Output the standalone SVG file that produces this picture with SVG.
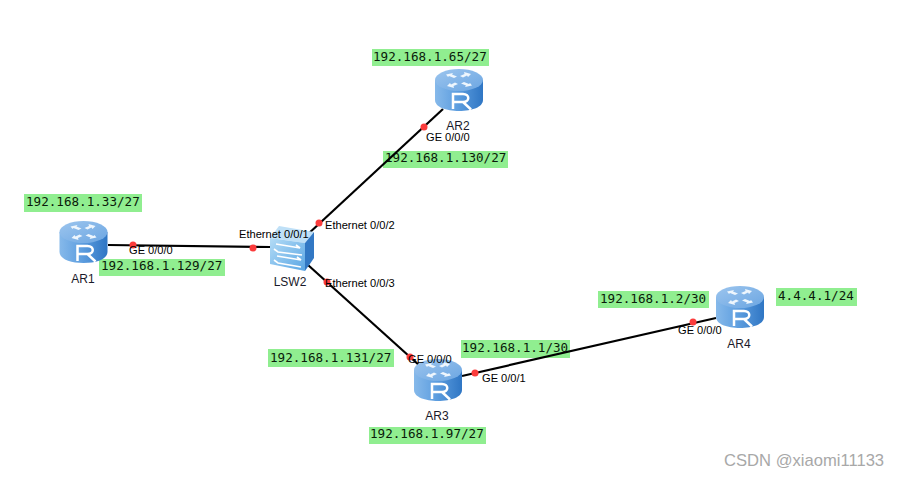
<svg xmlns="http://www.w3.org/2000/svg" width="900" height="477" viewBox="0 0 900 477">
<style>
.l{stroke:#000;stroke-width:2.200;fill:none}
.d{fill:#fb3c3c}
.g{fill:#90ee90}
.m{font:12.6px "DejaVu Sans Mono",monospace;fill:#0a1a0a}
.p{font:11.1px "Liberation Sans",Arial,sans-serif;fill:#000}
.n{font:12px "Liberation Sans",Arial,sans-serif;fill:#1a1a2a;text-anchor:middle}
</style>
<defs>
<linearGradient id="rb" x1="0" x2="1" y1="0" y2="0"><stop offset="0" stop-color="#86b9ea"/><stop offset=".45" stop-color="#5f9fe0"/><stop offset="1" stop-color="#2f76c4"/></linearGradient>
<linearGradient id="rt" x1="0" x2="1" y1="0" y2="1"><stop offset="0" stop-color="#9cc5ee"/><stop offset="1" stop-color="#6ca6e2"/></linearGradient>
<linearGradient id="sf" x1="0" x2="1" y1="0" y2="1"><stop offset="0" stop-color="#b4dcf6"/><stop offset="1" stop-color="#5aa6e4"/></linearGradient>
<g id="router">
<path d="M-24 0V20C-24 27 -13 31 0 31S24 27 24 20V0Z" fill="url(#rb)"/>
<ellipse cx="0" cy="0" rx="24" ry="11" fill="url(#rt)"/>
<g fill="#eef6fd">
<path d="M-13 -5.500L-6 -7L-7 -5.500L-2 -3.500L-5 -2L-10 -4L-11 -3Z"/>
<path d="M13 5.500L6 7L7 5.500L2 3.500L5 2L10 4L11 3Z"/>
<path d="M12 -6L5 -8L5.500 -6L1 -4L4 -2.500L8 -4.500L9 -3Z"/>
<path d="M-12 6L-5 8L-5.500 6L-1 4L-4 2.500L-8 4.500L-9 3Z"/>
</g>
<path d="M-6 29V14H4C11 14 11 22 4 22H-6M4 22L12 29.500" fill="none" stroke="#fff" stroke-width="2.500"/>
</g>
</defs>
<rect width="900" height="477" fill="#fff"/>
<g id="labels">
<rect class="g" x="24" y="194" width="118" height="18"/><text class="m" x="26" y="206">192.168.1.33/27</text>
<rect class="g" x="99" y="259" width="126" height="17"/><text class="m" x="101" y="270">192.168.1.129/27</text>
<rect class="g" x="372" y="49" width="117" height="17"/><text class="m" x="373" y="61">192.168.1.65/27</text>
<rect class="g" x="383" y="151" width="125" height="17"/><text class="m" x="385" y="162">192.168.1.130/27</text>
<rect class="g" x="268" y="349" width="126" height="18"/><text class="m" x="270" y="362">192.168.1.131/27</text>
<rect class="g" x="369" y="427" width="117" height="17"/><text class="m" x="370" y="438">192.168.1.97/27</text>
<rect class="g" x="461" y="340" width="109" height="18"/><text class="m" x="462" y="352">192.168.1.1/30</text>
<rect class="g" x="598" y="291" width="111" height="17"/><text class="m" x="600" y="303">192.168.1.2/30</text>
<rect class="g" x="776" y="288" width="81" height="18"/><text class="m" x="778" y="300">4.4.4.1/24</text>
</g>
<g id="connectors">
<path class="l" d="M108 245L270 247"/>
<path class="l" d="M307 235L443 109"/>
<path class="l" d="M308 265L420 366"/>
<path class="l" d="M462 376L716 318"/>
<circle class="d" cx="133" cy="245" r="3.500"/><circle class="d" cx="253" cy="248" r="3.500"/>
<circle class="d" cx="319" cy="223" r="3.500"/><circle class="d" cx="424" cy="127" r="3.500"/>
<circle class="d" cx="327" cy="282" r="3.500"/><circle class="d" cx="410" cy="357" r="3.500"/>
<circle class="d" cx="475" cy="373" r="3.500"/><circle class="d" cx="693" cy="322" r="3.500"/>
</g>
<g id="AR1"><use href="#router" x="83.500" y="232"/><text class="n" x="83" y="283">AR1</text></g>
<g id="AR2"><use href="#router" x="459" y="80"/><text class="n" x="458" y="130">AR2</text></g>
<g id="AR3"><use href="#router" x="438" y="370"/><text class="n" x="437" y="420">AR3</text></g>
<g id="AR4"><use href="#router" x="740" y="297"/><text class="n" x="739" y="348">AR4</text></g>
<g id="LSW2">
<path d="M270 238L279 226L314 232L305 243Z" fill="#bfe0f7"/>
<path d="M305 243L314 232V258L305 271Z" fill="#3278c4"/>
<path d="M270 238L305 243V271L270 264Z" fill="url(#sf)"/>
<g fill="none" stroke="#fff" stroke-width="1.600"><path d="M276 244L300 248L296 245M274 249L278 252L302 255M277 256L301 260L297 257M274 260L278 263L301 267"/></g>
<text class="n" x="290" y="286">LSW2</text>
</g>
<g id="port-labels">
<text class="p" x="129" y="254">GE 0/0/0</text>
<text class="p" x="239" y="238">Ethernet 0/0/1</text>
<text class="p" x="325" y="229">Ethernet 0/0/2</text>
<text class="p" x="325" y="287">Ethernet 0/0/3</text>
<text class="p" x="426" y="141">GE 0/0/0</text>
<text class="p" x="408" y="363">GE 0/0/0</text>
<text class="p" x="482" y="382">GE 0/0/1</text>
<text class="p" x="678" y="334">GE 0/0/0</text>
</g>
<text x="724" y="466" font-family="'Liberation Sans',Arial,sans-serif" font-size="16.600" fill="#a8a8a8">CSDN @xiaomi11133</text>
</svg>
